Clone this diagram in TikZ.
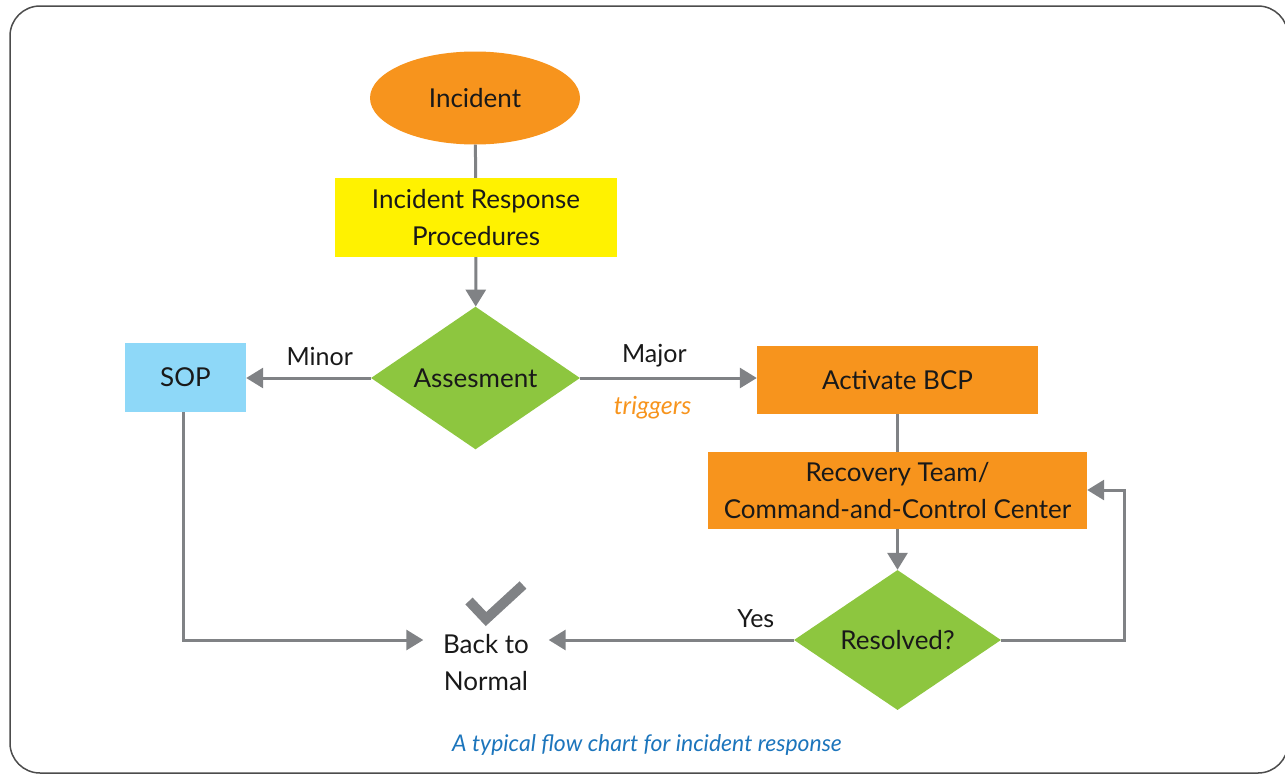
\documentclass[tikz,border=0pt]{standalone}
\usepackage{fontspec}
\setmainfont{Lato}
\usetikzlibrary{shapes.geometric,arrows.meta}
\definecolor{orng}{HTML}{F7941D}
\definecolor{yel}{HTML}{FFF200}
\definecolor{grn}{HTML}{8DC63F}
\definecolor{sky}{HTML}{8ED8F8}
\definecolor{conn}{HTML}{808285}
\definecolor{capblue}{HTML}{1C75BC}
\tikzset{
  base/.style={inner sep=0pt, font=\fontsize{26}{37}\selectfont, align=center, text=black!90},
  boxnode/.style={base, rectangle},
  oval/.style={base, ellipse, fill=orng, minimum width=210pt, minimum height=93pt},
  decide/.style={base, diamond, fill=grn, minimum width=209pt, minimum height=142pt},
  link/.style={draw=conn, line width=3pt},
  arrowlink/.style={link, -{Triangle[length=17pt,width=20pt]}},
  lbl/.style={font=\fontsize{25}{28}\selectfont, inner sep=0pt, anchor=center, text=black!90}
}
\begin{document}
\begin{tikzpicture}[x=1pt,y=-1pt]
\useasboundingbox (0,0) rectangle (1285,774);
\begin{scope}
\clip (0,0) rectangle (1285,774);
\draw[draw=black!70, line width=1.5pt, rounded corners=30pt] (10,6) rectangle (1288,773);
\end{scope}
% nodes
\node[oval] (inc) at (475,98) {Incident};
\node[boxnode, fill=yel, minimum width=282pt, minimum height=79pt] (irp) at (476,217.5) {Incident Response\\Procedures};
\node[decide] (ass) at (475.5,378) {Assesment};
\node[boxnode, fill=sky, minimum width=121pt, minimum height=69pt] (sop) at (185.5,377.5) {SOP};
\node[boxnode, fill=orng, minimum width=281pt, minimum height=68pt] (bcp) at (897.5,380) {Activate BCP};
\node[boxnode, fill=orng, minimum width=379pt, minimum height=77pt] (rec) at (897.5,490.5) {Recovery Team/\\Command-and-Control Center};
\node[decide, minimum width=207pt, minimum height=140pt] (res) at (897.5,640) {Resolved?};
\node[base, minimum width=125pt, minimum height=60pt] (btn) at (486,662.5) {Back to\\Normal};
\coordinate (loopa) at (1124,640);
\coordinate (loopb) at (1124,490);
\coordinate (sopc) at (183,640);
% connectors
\draw[link] (inc) -- (irp);
\draw[arrowlink] (irp) -- (ass);
\draw[arrowlink] (ass.west) -- (ass.west -| sop.east) node[lbl, pos=0.41, yshift=22pt] {Minor};
\draw[arrowlink] (ass.east) -- (ass.east -| bcp.west) node[lbl, pos=0.42, yshift=22pt] {Major}
  node[lbl, pos=0.41, yshift=-30pt, text=orng, font=\fontsize{25}{28}\selectfont\itshape] {triggers};
\draw[link] (bcp) -- (rec);
\draw[arrowlink] (rec) -- (res);
\draw[arrowlink] (res.west) -- (btn.east |- res.west) node[lbl, pos=0.155, yshift=21pt] {Yes};
\draw[arrowlink] (res.east) -- (loopa) -- (loopb) -- (rec.east |- loopb);
\draw[arrowlink] (sop.south -| sopc) -- (sopc) -- (btn.west |- sopc);
% check mark
\draw[conn, line width=10pt, miter limit=4] (469,601) -- (486,619) -- (523,585);
% caption
\node[font=\fontsize{23}{26}\selectfont\itshape, text=capblue, inner sep=0pt] (cap) at (647,745) {A typical flow chart for incident response};
\end{tikzpicture}
\end{document}
